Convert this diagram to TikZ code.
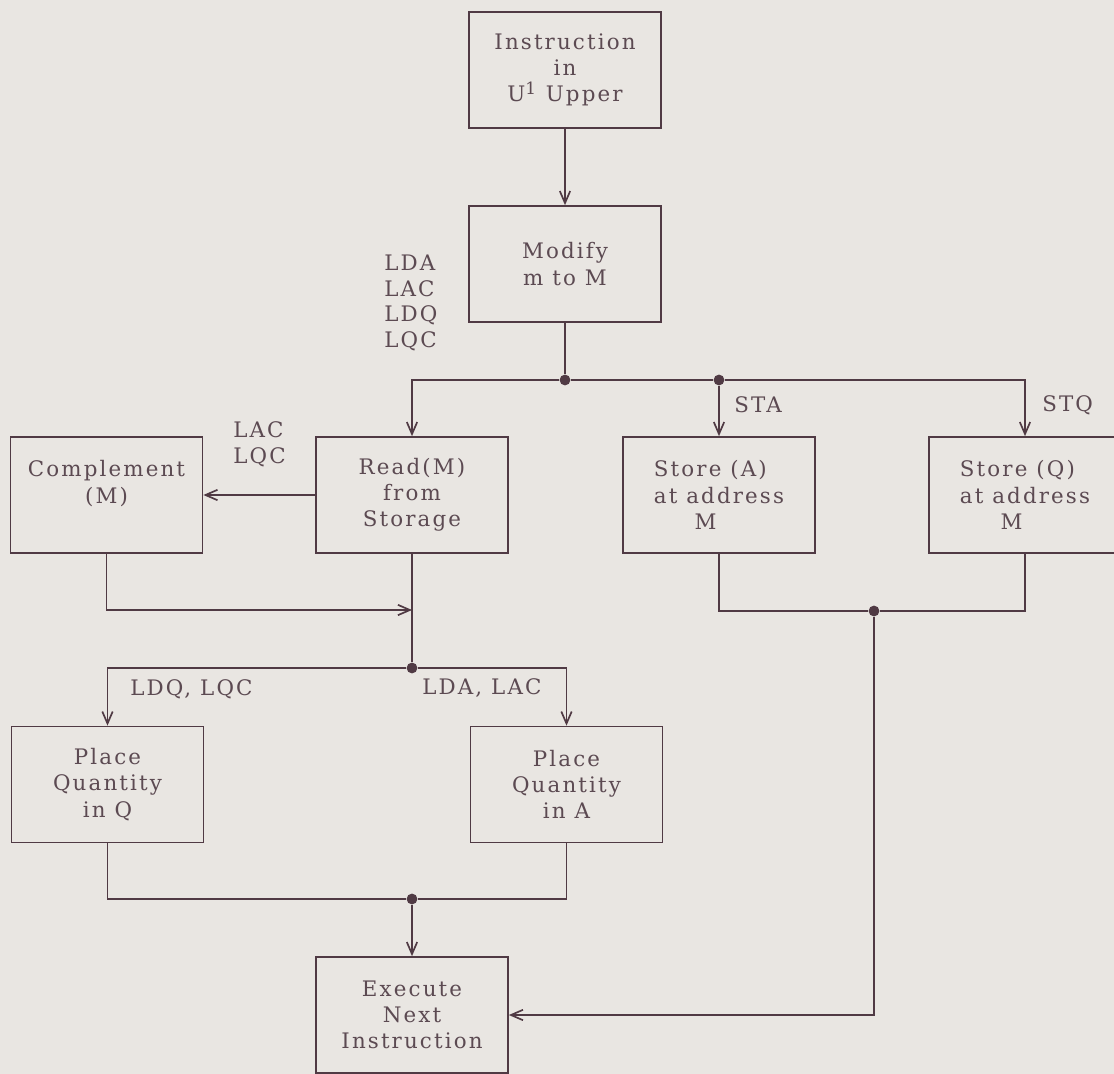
\documentclass[tikz,border=0pt]{standalone}
\usepackage{fontspec}
\setmainfont{DejaVu Serif}[LetterSpace=10]
\usetikzlibrary{arrows.meta}
\definecolor{paper}{RGB}{233,230,226}
\definecolor{ink}{RGB}{80,58,68}
\definecolor{inktext}{RGB}{92,74,82}

\begin{document}
\begin{tikzpicture}[x=0.025cm,y=-0.025cm,
	box/.style={draw=ink, line width=1.2pt, minimum width=4.8cm, minimum height=2.9cm,
		inner sep=0pt, align=center, text=inktext, font=\fontsize{15.2}{18.6}\selectfont},
	lbl/.style={inner sep=0pt, align=left, text=inktext, font=\fontsize{15.2}{18.3}\selectfont},
	dot/.style={circle, fill=ink, inner sep=0pt, minimum size=0.27cm},
	flow/.style={draw=ink, line width=1.2pt},
	>={Straight Barb[length=3mm,width=2.6mm]}]
	\useasboundingbox (0,0) rectangle (1114,1074);
	\clip (0,0) rectangle (1114,1074);
	\fill[paper] (0,0) rectangle (1114,1074);

	% Instruction fetch
	\node[box] (instr) at (565,70) {Instruction\\in\\U\textsuperscript{\large 1} Upper};
	\node[box] (modify) at (565,264) {Modify\\m to M};
	\node[lbl, anchor=west] (ldlist) at (384,303) {LDA\\LAC\\LDQ\\LQC};

	% Second row
	\node[box] (compl) at (106.5,495) {Complement\\(M)\\\mbox{}};
	\node[box] (read) at (412,495) {Read(M)\\from\\Storage};
	\node[box, align=left] (storeA) at (719,495) {Store (A)\\at address\\\hspace*{1.9em}M};
	\node[box, align=left] (storeQ) at (1025,495) {Store (Q)\\at address\\\hspace*{1.9em}M};
	\node[lbl, anchor=west] (cmlist) at (233,444) {LAC\\LQC};
	\node[lbl, anchor=west] (stalbl) at (734,405) {STA};
	\node[lbl, anchor=west] (stqlbl) at (1042,405) {STQ};

	% Third row
	\node[box] (placeQ) at (107.5,784.5) {Place\\Quantity\\in Q};
	\node[box] (placeA) at (566.5,784.5) {Place\\Quantity\\in A};
	\node[lbl, anchor=west] (ldqlbl) at (130,689) {LDQ, LQC};
	\node[lbl, anchor=west] (ldalbl) at (422,688) {LDA, LAC};

	\node[box] (exec) at (412,1015) {Execute\\Next\\Instruction};

	% junctions
	\node[dot] (j1) at (565,380) {};
	\node[dot] (j2) at (719,380) {};
	\node[dot] (j3) at (412,668) {};
	\node[dot] (j4) at (412,899) {};
	\node[dot] (j5) at (874,611) {};
	\coordinate (m1) at (412,610);

	% connectors
	\draw[flow,->] (instr) -- (modify);
	\draw[flow] (modify) -- (j1);
	\draw[flow,->] (j1) -| (read);
	\draw[flow] (j1) -- (j2);
	\draw[flow,->] (j2) -- (storeA);
	\draw[flow,->] (j2) -| (storeQ);
	\draw[flow,->] (read) -- (compl);
	\draw[flow,->] (compl) |- (m1);
	\draw[flow] (read) -- (j3);
	\draw[flow,->] (j3) -| (placeQ);
	\draw[flow,->] (j3) -| (placeA);
	\draw[flow] (placeQ) |- (j4);
	\draw[flow] (placeA) |- (j4);
	\draw[flow,->] (j4) -- (exec);
	\draw[flow] (storeA) |- (j5);
	\draw[flow] (storeQ) |- (j5);
	\draw[flow,->] (j5) |- (exec);
\end{tikzpicture}
\end{document}
